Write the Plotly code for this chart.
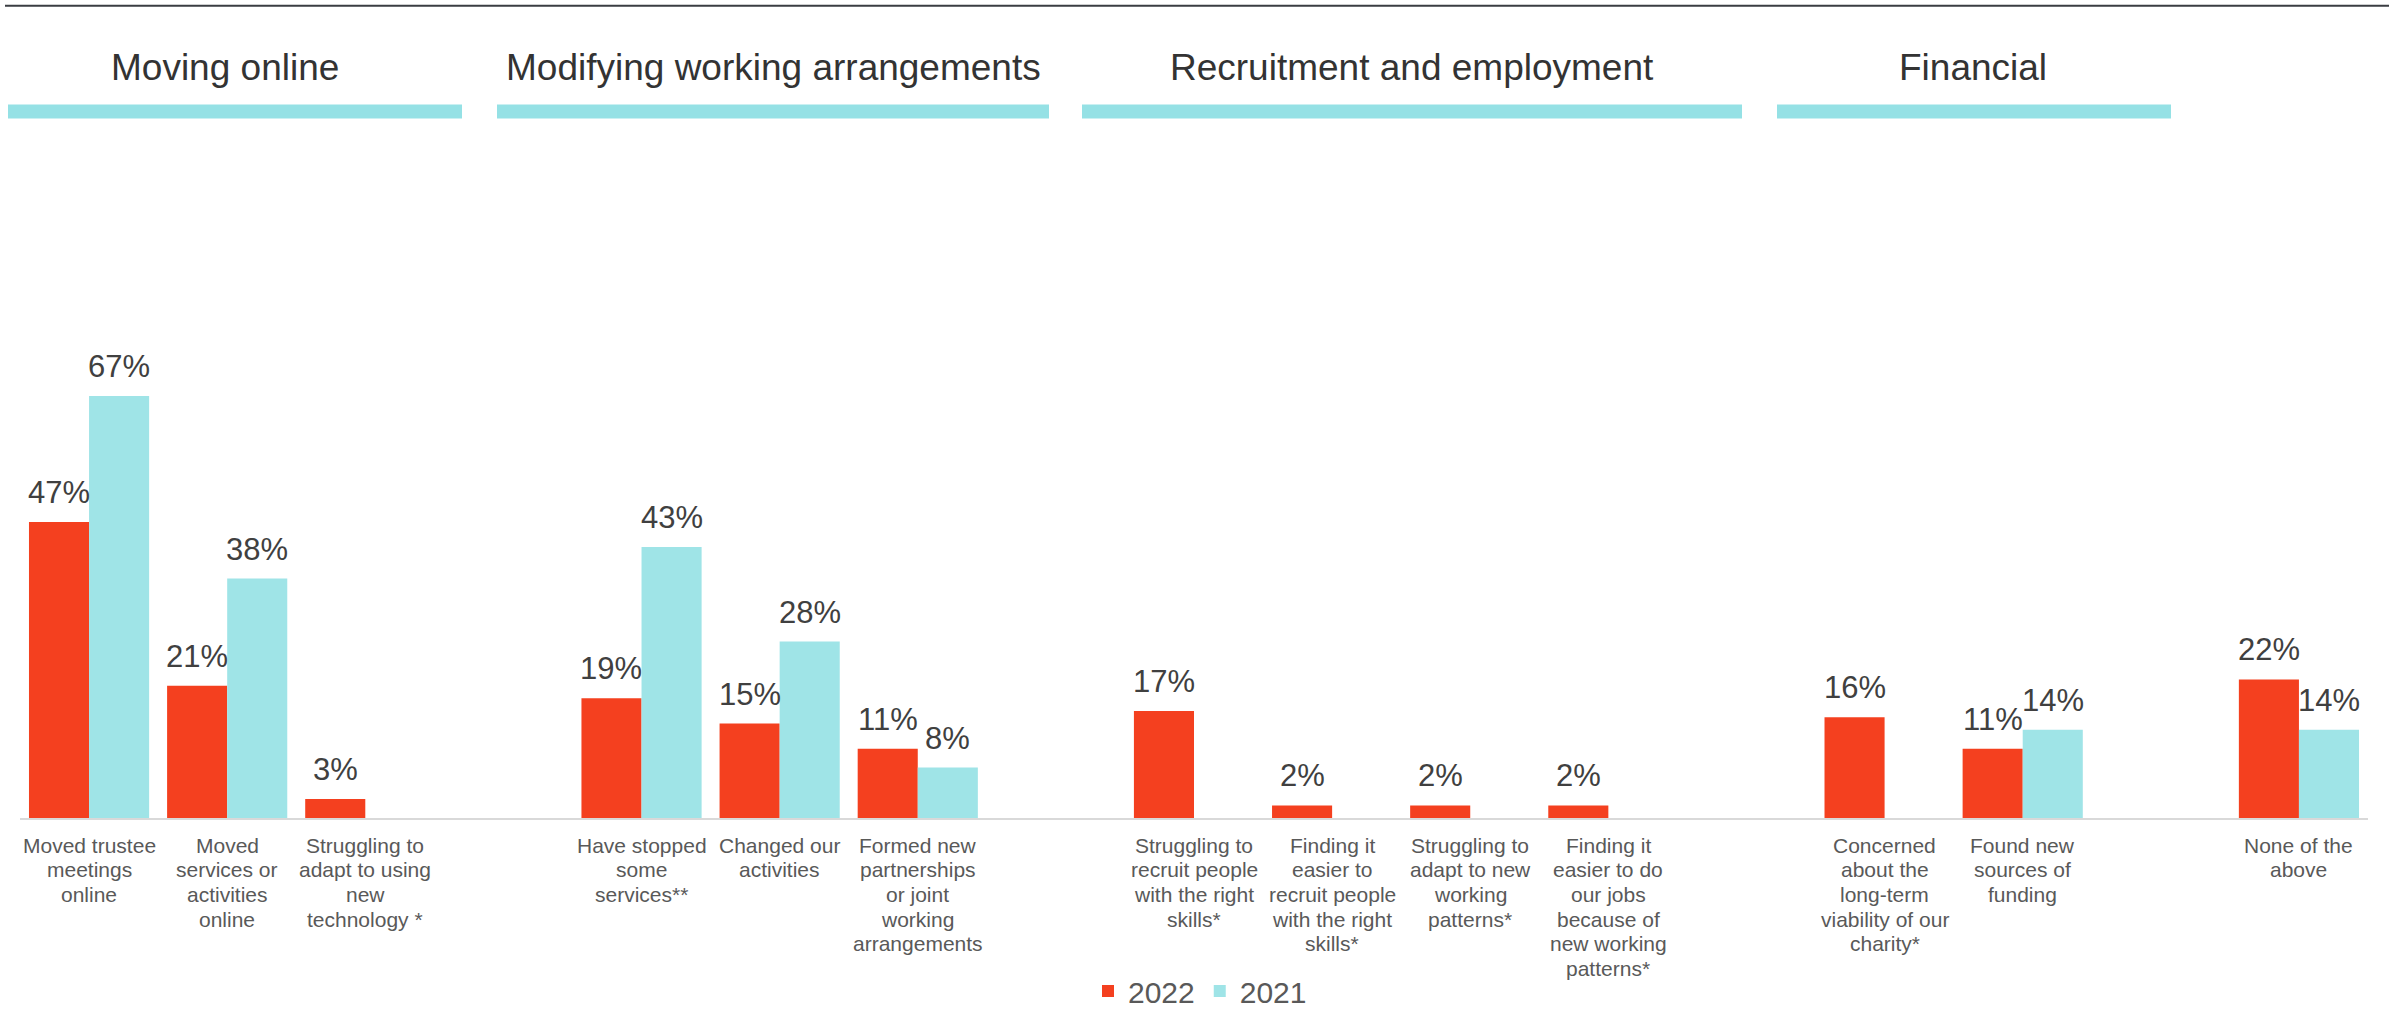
import plotly.graph_objects as go

# Category slots along the x axis; empty strings are spacer slots between themes
categories = [
    "Moved trustee<br>meetings<br>online",
    "Moved<br>services or<br>activities<br>online",
    "Struggling to<br>adapt to using<br>new<br>technology *",
    "",
    "Have stopped<br>some<br>services**",
    "Changed our<br>activities",
    "Formed new<br>partnerships<br>or joint<br>working<br>arrangements",
    "",
    "Struggling to<br>recruit people<br>with the right<br>skills*",
    "Finding it<br>easier to<br>recruit people<br>with the right<br>skills*",
    "Struggling to<br>adapt to new<br>working<br>patterns*",
    "Finding it<br>easier to do<br>our jobs<br>because of<br>new working<br>patterns*",
    "",
    "Concerned<br>about the<br>long-term<br>viability of our<br>charity*",
    "Found new<br>sources of<br>funding",
    "",
    "None of the<br>above",
]

values_2022 = [47, 21, 3, None, 19, 15, 11, None, 17, 2, 2, 2, None, 16, 11, None, 22]
values_2021 = [67, 38, None, None, 43, 28, 8, None, None, None, None, None, None, None, 14, None, 14]

# Theme headings shown above the bar groups
themes = ["Moving online", "Modifying working arrangements", "Recruitment and employment", "Financial"]

RED = "#F4401F"
CYAN = "#9FE4E7"
HEAD_CYAN = "#95E1E5"
FONT = "Liberation Sans, Arial, sans-serif"

W, H = 2389, 1009
ML, MR, MT, MB = 20, 21, 188, 191
PW, PH = W - ML - MR, H - MT - MB


def px_x(px):
    return (px - ML) / PW


def px_y(py):
    return (H - MB - py) / PH


BAR_W = 0.435
x_pos = list(range(len(categories)))

fig = go.Figure()
series = [("2022", values_2022, RED, -BAR_W), ("2021", values_2021, CYAN, 0.0)]
for name, vals, color, off in series:
    fig.add_trace(go.Bar(
        x=x_pos, y=vals, name=name, marker_color=color, marker_line_width=0,
        width=BAR_W, offset=off,
    ))
    for i, v in enumerate(vals):
        if v is None:
            continue
        fig.add_annotation(
            x=i + off + BAR_W / 2, y=v, text=f"{v}%", showarrow=False,
            xanchor="center", yanchor="bottom", yshift=10,
            font=dict(family=FONT, size=31, color="#404040"),
        )

# Category labels under the axis, one line at a time for a tight line pitch
LABEL_FIRST = 27
LABEL_PITCH = 24.7
for i, label in enumerate(categories):
    if not label:
        continue
    for k, line in enumerate(label.split("<br>")):
        fig.add_annotation(
            x=i, y=0, text=line, showarrow=False,
            xanchor="center", yanchor="middle",
            yshift=-(LABEL_FIRST + k * LABEL_PITCH),
            font=dict(family=FONT, size=21, color="#595959"),
        )

# Theme heading texts and underline bars (pixel layout)
head_text_x = [225, 773, 1412, 1973]
head_bar_x = [(8, 462), (497, 1049), (1082, 1742), (1777, 2171)]
for t, cx, (x0, x1) in zip(themes, head_text_x, head_bar_x):
    fig.add_annotation(
        x=px_x(cx), y=px_y(90), xref="paper", yref="paper", text=t,
        showarrow=False, xanchor="center", yanchor="bottom",
        font=dict(family=FONT, size=37, color="#333333"),
    )
    fig.add_shape(
        type="rect", xref="paper", yref="paper",
        x0=px_x(x0), x1=px_x(x1), y0=px_y(118.5), y1=px_y(104.5),
        fillcolor=HEAD_CYAN, line_width=0,
    )

# Rule across the top
fig.add_shape(
    type="line", xref="paper", yref="paper",
    x0=px_x(5), x1=px_x(W), y0=px_y(5.7), y1=px_y(5.7),
    line=dict(color="#3A3D42", width=2),
)

fig.update_layout(
    width=W, height=H,
    margin=dict(l=ML, r=MR, t=MT, b=MB, autoexpand=False),
    paper_bgcolor="white", plot_bgcolor="white",
    barmode="overlay",
    font=dict(family=FONT),
    showlegend=True,
    legend=dict(
        orientation="h", x=px_x(1200), xanchor="center", y=px_y(991), yanchor="middle",
        font=dict(family=FONT, size=30, color="#595959"),
        itemsizing="constant", traceorder="normal",
    ),
    xaxis=dict(
        range=[-0.5, len(categories) - 0.5], automargin=False,
        showticklabels=False,
        showgrid=False, zeroline=False,
        showline=True, linecolor="#D9D9D9", linewidth=2,
        ticks="",
    ),
    yaxis=dict(
        range=[0, 100], visible=False, showgrid=False, zeroline=False,
    ),
)

fig.write_html("out.html")
